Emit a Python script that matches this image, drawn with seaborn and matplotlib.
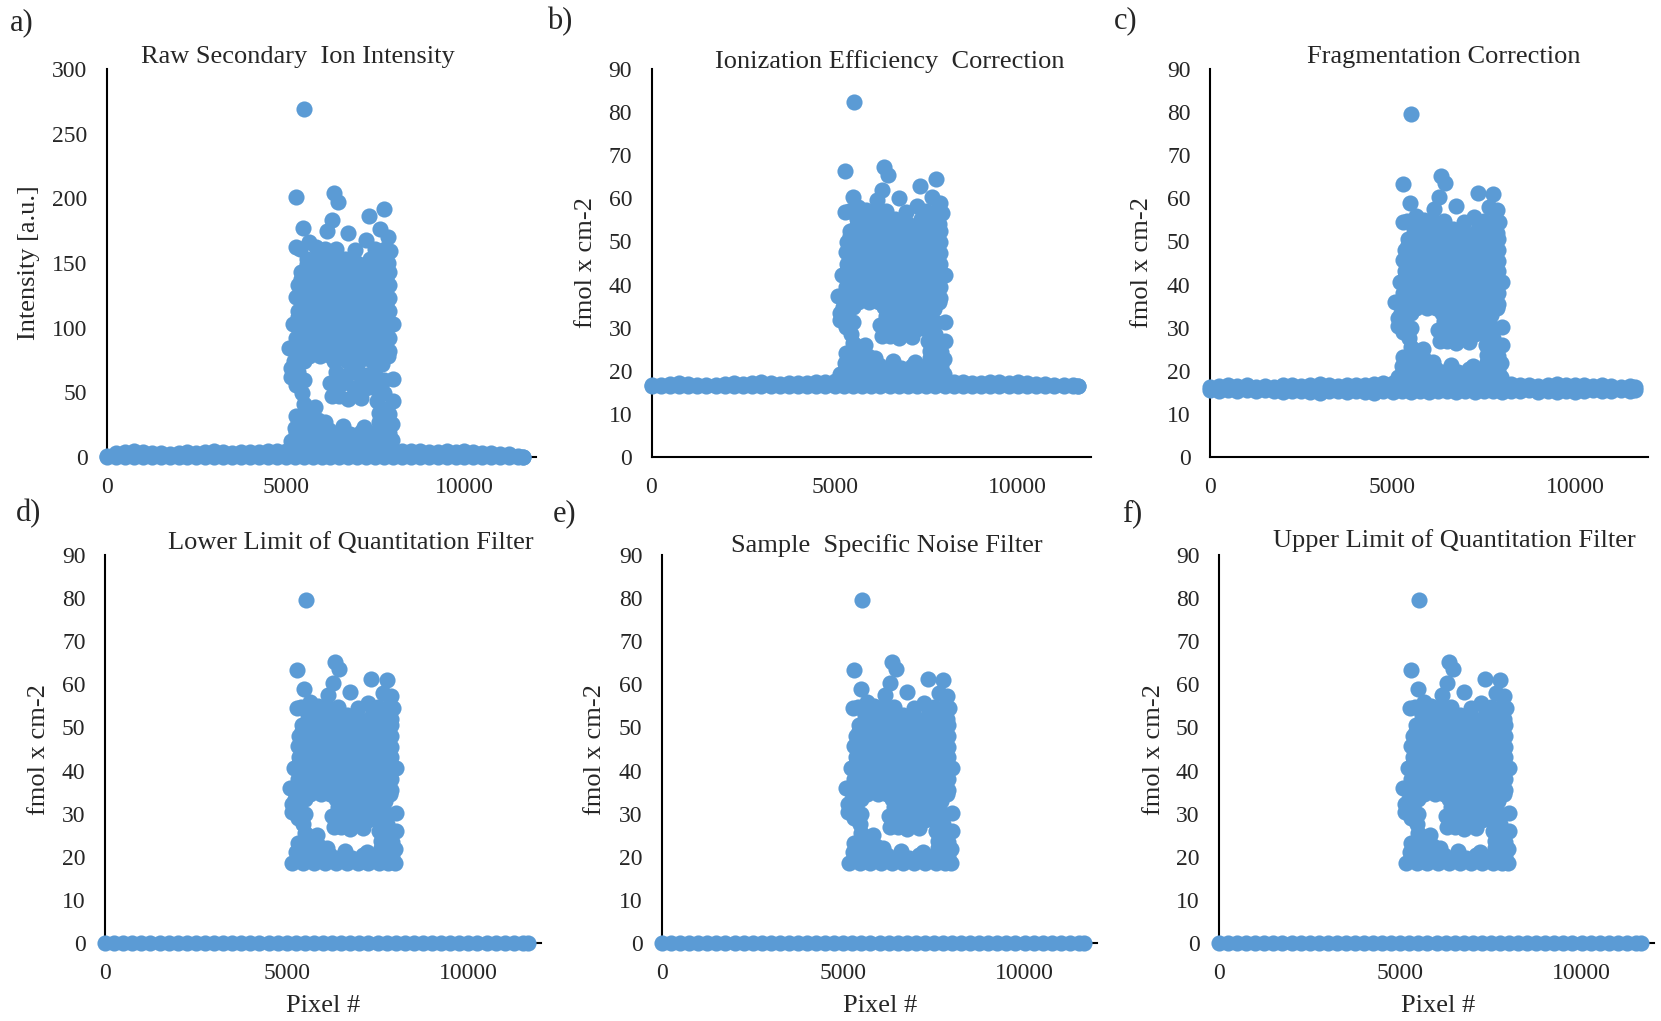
"""Six scatter panels: pixel intensity and quantitation filter steps."""

import matplotlib
matplotlib.use("Agg")
import matplotlib.pyplot as plt
import seaborn as sns

# pixels of the sample region, same x for every panel
cloud_x = [
    5520, 5290, 6340, 6450, 7330, 7760, 5490, 6280, 6750, 7650, 7870, 7240, 5280, 7920, 6150, 5650,
    5400, 5850, 6100, 6400, 6950, 7500, 7780,
    5600, 5950, 6300, 6650, 7000, 7350, 7650, 7860,
    5600, 5950, 6300, 6650, 7000, 7350, 7700,
    5430, 5780, 6130, 6480, 6830, 7180, 7530, 7880,
    5430, 5780, 6130, 6480, 6830, 7180, 7530, 7800,
    5350, 5600, 5950, 6300, 6650, 7000, 7350, 7700, 7880,
    5450, 5600, 5950, 6300, 6650, 7000, 7350, 7700,
    5300, 5500, 5780, 6130, 6480, 6830, 7180, 7530, 7880,
    5450, 5780, 6130, 6480, 6830, 7180, 7530, 7800,
    5350, 5600, 5950, 6300, 6650, 7000, 7350, 7700, 7880,
    5350, 5600, 5950, 6300, 6650, 7000, 7350, 7700,
    5200, 5430, 5780, 6130, 6480, 6830, 7180, 7530, 7800, 8000,
    5430, 5780, 6130, 6480, 6830, 7180, 7530, 7800,
    5300, 5600, 5950, 6300, 6650, 7000, 7350, 7700, 7880,
    5300, 5600, 5950, 6300, 6650, 7000, 7350, 7700,
    5080, 5430, 5780, 6130, 6480, 6830, 7180, 7530, 7880,
    5650, 5950, 6200, 6550, 6900, 7250, 7550, 7850,
    5300, 5500, 6350, 6700, 7050, 7400, 7700,
    5140, 5350, 5140, 5300, 5500, 5450, 5500, 5300, 5500, 5700, 5270, 5480, 5700, 5900, 5830,
    6400, 6250, 6450, 6300, 6500, 6700, 6750, 7100, 6950, 7250, 7250,
    6900, 7100, 7000, 6600, 7400, 7700, 5230,
    7500, 7500, 7550, 7750, 8000, 7750, 8000, 7750, 7600, 7900, 7980,
    5300, 5600, 5900, 6200, 6500, 6800, 7100, 7400, 7700, 7900,
    5150, 5450, 5750, 6050, 6350, 6650, 6950, 7250, 7550, 7800, 7980,
    6100, 6600, 7200, 7600,
]
raw_y = [
    269, 201, 204, 197, 186, 192, 177, 183, 173, 176, 170, 168, 162, 159, 175, 166,
    161, 162, 161, 161, 160, 161, 161,
    153, 155, 153, 153, 150, 153, 153, 150,
    149, 149, 148, 149, 149, 148, 149,
    143, 144, 143, 144, 143, 142, 144, 143,
    138, 138, 139, 138, 138, 139, 138, 138,
    133, 133, 134, 133, 133, 132, 133, 133, 133,
    128, 128, 129, 128, 128, 128, 129, 128,
    124, 123, 123, 122, 123, 124, 123, 123, 123,
    118, 118, 119, 118, 118, 117, 118, 118,
    113, 112, 113, 112, 113, 112, 113, 112, 113,
    108, 108, 107, 108, 108, 107, 108, 108,
    103, 103, 102, 103, 102, 103, 103, 102, 103, 103,
    97, 97, 98, 97, 97, 98, 97, 97,
    92, 92, 93, 92, 92, 93, 92, 92, 92,
    87, 87, 88, 87, 87, 87, 88, 87,
    84, 82, 82, 82, 82, 82, 82, 82, 82,
    78, 78, 79, 78, 78, 79, 78, 78,
    74, 74, 74, 74, 74, 74, 74,
    68.5, 65.7, 61.6, 55.4, 59.5, 49.3, 41, 31.6, 30.8, 37, 22.6, 22.6, 24.7, 28.8, 39,
    65.7, 57.5, 55.4, 47.2, 47.2, 63.6, 45.2, 46, 65.7, 63.6, 53.4,
    53.4, 57.5, 71.8, 57.5, 55.4, 71.8, 73.9,
    63.6, 53.4, 43.1, 59.5, 60.3, 49.3, 43.1, 37, 33.7, 32.9, 25.9,
    18.5, 19.7, 17.7, 20.5, 18.5, 17.7, 19.7, 18.5, 20.5, 18.5,
    12, 13, 12, 12, 13, 12, 12, 13, 12, 12, 13,
    26.7, 23.8, 23.4, 26.7,
]
ion_y = [
    82.4, 66.3, 67.3, 65.4, 62.9, 64.5, 60.3, 62, 60, 60.3, 59, 58.2, 56.8, 56.5, 59.5, 58,
    57, 57.2, 57, 57, 56.8, 57, 57,
    55.1, 55.6, 55.1, 55.1, 54, 55.1, 55.1, 54,
    53.8, 53.8, 53.7, 53.8, 53.8, 53.7, 53.8,
    52.5, 52.8, 52.4, 52.6, 52.5, 52.3, 52.6, 52.5,
    51.2, 51.2, 51.3, 51.2, 51.2, 51.3, 51.2, 51.2,
    49.9, 49.9, 50.1, 49.9, 49.9, 49.7, 49.9, 49.9, 49.9,
    48.6, 48.6, 48.7, 48.6, 48.6, 48.6, 48.7, 48.6,
    47.5, 47.3, 47.3, 47.1, 47.3, 47.5, 47.3, 47.3, 47.3,
    46, 46, 46.1, 46, 46, 45.9, 46, 46,
    44.8, 44.6, 44.8, 44.6, 44.8, 44.6, 44.8, 44.6, 44.8,
    43.4, 43.4, 43.3, 43.4, 43.4, 43.3, 43.4, 43.4,
    42.3, 42.3, 42.1, 42.3, 42.1, 42.3, 42.3, 42.1, 42.3, 42.2,
    40.8, 40.8, 40.9, 40.8, 40.8, 40.9, 40.8, 40.8,
    39.5, 39.5, 39.7, 39.5, 39.5, 39.7, 39.5, 39.5, 39.5,
    38.2, 38.2, 38.3, 38.2, 38.2, 38.2, 38.3, 38.2,
    37.4, 36.9, 36.9, 36.9, 36.9, 36.9, 36.9, 36.9, 36.9,
    35.9, 35.9, 36, 35.9, 35.9, 36, 35.9, 35.9,
    34.8, 34.8, 34.8, 34.8, 34.8, 34.8, 34.8,
    33.5, 32.8, 31.7, 30.2, 31.2, 28.6, 26.5, 24.1, 23.9, 25.5, 21.8, 21.8, 22.4, 23.4, 26,
    32.8, 30.7, 30.2, 28.1, 28.1, 32.2, 27.6, 27.8, 32.8, 32.2, 29.6,
    29.6, 30.7, 34.3, 30.7, 30.2, 34.3, 34.8,
    32.2, 29.6, 27, 31.2, 31.4, 28.6, 27, 25.5, 24.6, 24.4, 22.7,
    20.8, 21.1, 20.6, 21.3, 20.8, 20.6, 21.1, 20.8, 21.3, 20.8,
    19.2, 19.3, 19.2, 19.2, 19.3, 19.2, 19.2, 19.3, 19.2, 19.2, 19.3,
    22.9, 22.2, 22, 22.9,
]
# fragmentation corrected, the filtered panels keep these same values
frag_y = [
    79.6, 63.3, 65.2, 63.6, 61.2, 61, 59, 60.3, 58.2, 58, 57.3, 55.7, 54.5, 54.5, 57.5, 56,
    54.8, 55, 54.8, 54.8, 54.6, 54.8, 54.8,
    53, 53.5, 53, 53, 52, 53, 53, 52,
    51.7, 51.7, 51.6, 51.7, 51.7, 51.6, 51.7,
    50.5, 50.8, 50.4, 50.6, 50.5, 50.3, 50.6, 50.5,
    49.2, 49.2, 49.3, 49.2, 49.2, 49.3, 49.2, 49.2,
    48, 48, 48.2, 48, 48, 47.8, 48, 48, 48,
    46.8, 46.8, 46.9, 46.8, 46.8, 46.8, 46.9, 46.8,
    45.7, 45.5, 45.5, 45.3, 45.5, 45.7, 45.5, 45.5, 45.5,
    44.2, 44.2, 44.3, 44.2, 44.2, 44.1, 44.2, 44.2,
    43.1, 42.9, 43.1, 42.9, 43.1, 42.9, 43.1, 42.9, 43.1,
    41.8, 41.8, 41.7, 41.8, 41.8, 41.7, 41.8, 41.8,
    40.7, 40.7, 40.5, 40.7, 40.5, 40.7, 40.7, 40.5, 40.7, 40.6,
    39.2, 39.2, 39.3, 39.2, 39.2, 39.3, 39.2, 39.2,
    38, 38, 38.2, 38, 38, 38.2, 38, 38, 38,
    36.8, 36.8, 36.9, 36.8, 36.8, 36.8, 36.9, 36.8,
    36, 35.5, 35.5, 35.5, 35.5, 35.5, 35.5, 35.5, 35.5,
    34.5, 34.5, 34.6, 34.5, 34.5, 34.6, 34.5, 34.5,
    33.5, 33.5, 33.5, 33.5, 33.5, 33.5, 33.5,
    32.2, 31.5, 30.5, 29, 30, 27.5, 25.5, 23.2, 23, 24.5, 21, 21, 21.5, 22.5, 25,
    31.5, 29.5, 29, 27, 27, 31, 26.5, 26.7, 31.5, 31, 28.5,
    28.5, 29.5, 33, 29.5, 29, 33, 33.5,
    31, 28.5, 26, 30, 30.2, 27.5, 26, 24.5, 23.7, 23.5, 21.8,
    20, 20.3, 19.8, 20.5, 20, 19.8, 20.3, 20, 20.5, 20,
    18.5, 18.6, 18.5, 18.5, 18.6, 18.5, 18.5, 18.6, 18.5, 18.5, 18.6,
    22, 21.3, 21.2, 22,
]

# background pixels along the whole scan
base_x = [
    0, 250, 500, 750, 1000, 1250, 1500, 1750, 2000, 2250, 2500, 2750, 3000, 3250, 3500, 3750,
    4000, 4250, 4500, 4750, 5000, 5250, 5500, 5750, 6000, 6250, 6500, 6750, 7000, 7250, 7500,
    7750, 8000, 8250, 8500, 8750, 9000, 9250, 9500, 9750, 10000, 10250, 10500, 10750, 11000,
    11250, 11500, 11650,
]
raw_base_y = [
    1, 3, 4, 5, 4, 3, 3, 2, 3, 4, 3, 4, 5, 4, 3, 4,
    4, 4, 5, 5, 5, 5, 5, 5, 5, 5, 5, 5, 5, 5, 5,
    5, 5, 5, 5, 5, 4, 4, 5, 4, 5, 4, 3, 3, 2, 2, 1, 0,
]
raw_floor_y = [0] * len(base_x)
ion_base_y = [
    16.6, 16.8, 17, 17.2, 17, 16.8, 16.8, 16.7, 16.9, 17.2, 16.9, 17.1, 17.5, 17.2, 17, 17.1,
    17.1, 17.2, 17.4, 17.5, 17.6, 17.6, 17.6, 17.6, 17.6, 17.6, 17.6, 17.6, 17.6, 17.6, 17.6,
    17.6, 17.6, 17.5, 17.3, 17.2, 17.2, 17.3, 17.4, 17.2, 17.3, 17.2, 17, 16.9, 16.8, 16.7, 16.6, 16.5,
]
ion_floor_y = [16.4] * len(base_x)
frag_base_y = [
    16.2, 16.4, 16.7, 16.5, 16.6, 16.3, 16.5, 16.3, 16.6, 16.7, 16.5, 16.6, 17, 16.8, 16.5, 16.7,
    16.6, 16.8, 17, 17.2, 17.2, 17.2, 17.2, 17.2, 17.2, 17.2, 17.2, 17.2, 17.2, 17.2, 17.2,
    17.2, 17.2, 17, 16.7, 16.8, 16.5, 16.8, 16.9, 16.6, 16.8, 16.7, 16.4, 16.6, 16.5, 16.3, 16.5, 16.2,
]
frag_low_y = [
    15.6, 15.3, 15.5, 15.2, 15.6, 15.4, 15.6, 15.3, 15.1, 15.4, 15.3, 15, 14.9, 15.2, 15.4, 15.1,
    15.3, 15, 14.9, 15.2, 15.1, 15.4, 15, 15.3, 15.1, 15.4, 15.2, 15, 15.3, 15.1, 15.4,
    15.2, 15, 15.4, 15.2, 15.5, 15.1, 15.3, 15, 15.2, 15, 15.3, 15.5, 15.2, 15.4, 15.5, 15.3, 15.6,
]
filtered_y = [0] * len(base_x)

x_ticks = [0, 5000, 10000]
raw_ticks = [0, 50, 100, 150, 200, 250, 300]
fmol_ticks = [0, 10, 20, 30, 40, 50, 60, 70, 80, 90]

BLUE = "#5B9BD5"
TEXT = "#262626"
W, H = 1661, 1021
SCALE = 1661 / 1568  # text positions below

sns.set_style("white")
plt.rcParams["font.family"] = ["Liberation Serif", "DejaVu Serif"]

fig = plt.figure(figsize=(W / 100, H / 100), dpi=100, facecolor="white")


def add_panel(box, ticks, ymax, layers):
    """box is left, right, top, bottom of the axes in figure pixels."""
    left, right, top, bottom = box
    ax = fig.add_axes([left / W, 1 - bottom / H, (right - left) / W, (bottom - top) / H])
    for xs, ys in layers:
        sns.scatterplot(x=xs, y=ys, ax=ax, color=BLUE, s=135, linewidth=0,
                        clip_on=False, zorder=3, legend=False)
    ax.set_xlim(0, 12000)
    ax.set_ylim(0, ymax)
    ax.set_xticks(x_ticks)
    ax.set_yticks(ticks)
    ax.tick_params(axis="both", length=0, labelsize=17, labelcolor=TEXT)
    ax.tick_params(axis="x", pad=14.5)
    ax.tick_params(axis="y", pad=14)
    sns.despine(ax=ax)
    for side in ["left", "bottom"]:
        ax.spines[side].set_color("black")
        ax.spines[side].set_linewidth(1.5)
    return ax


def label(x, y, text, size=19, rotation=0):
    fig.text(x * SCALE / W, 1 - y * SCALE / H, text, fontsize=size, color=TEXT,
             ha="center", va="center", rotation=rotation)


raw_layers = [(base_x, raw_floor_y), (base_x, raw_base_y), (cloud_x, raw_y)]
ion_layers = [(base_x, ion_floor_y), (base_x, ion_base_y), (cloud_x, ion_y)]
frag_layers = [(base_x, frag_low_y), (base_x, frag_base_y), (cloud_x, frag_y)]
filtered_layers = [(base_x, filtered_y), (cloud_x, frag_y)]

add_panel((107, 536, 69, 457), raw_ticks, 300, raw_layers)
add_panel((651.5, 1091, 69, 457), fmol_ticks, 90, ion_layers)
add_panel((1210, 1648, 69, 457), fmol_ticks, 90, frag_layers)
add_panel((105, 541, 555, 943), fmol_ticks, 90, filtered_layers)
add_panel((662, 1097, 555, 943), fmol_ticks, 90, filtered_layers)
add_panel((1219, 1654, 555, 943), fmol_ticks, 90, filtered_layers)

label(21, 21, "a)", 22)
label(528, 20, "b)", 22)
label(1063, 20, "c)", 22)
label(27, 485, "d)", 22)
label(533, 485, "e)", 22)
label(1069, 485, "f)", 22)

label(281, 54, "Raw Secondary  Ion Intensity")
label(840, 58, "Ionization Efficiency  Correction")
label(1363, 54, "Fragmentation Correction")
label(331, 513, "Lower Limit of Quantitation Filter")
label(837, 515, "Sample  Specific Noise Filter")
label(1373, 510, "Upper Limit of Quantitation Filter")

label(27, 248, "Intensity [a.u.]", rotation=90)
label(553, 248, "fmol x cm-2", rotation=90)
label(1078, 248, "fmol x cm-2", rotation=90)
label(37, 708, "fmol x cm-2", rotation=90)
label(562, 708, "fmol x cm-2", rotation=90)
label(1089, 708, "fmol x cm-2", rotation=90)

label(305, 950, "Pixel #")
label(831, 950, "Pixel #")
label(1358, 950, "Pixel #")

fig.savefig("out.png", dpi=100, facecolor="white")
